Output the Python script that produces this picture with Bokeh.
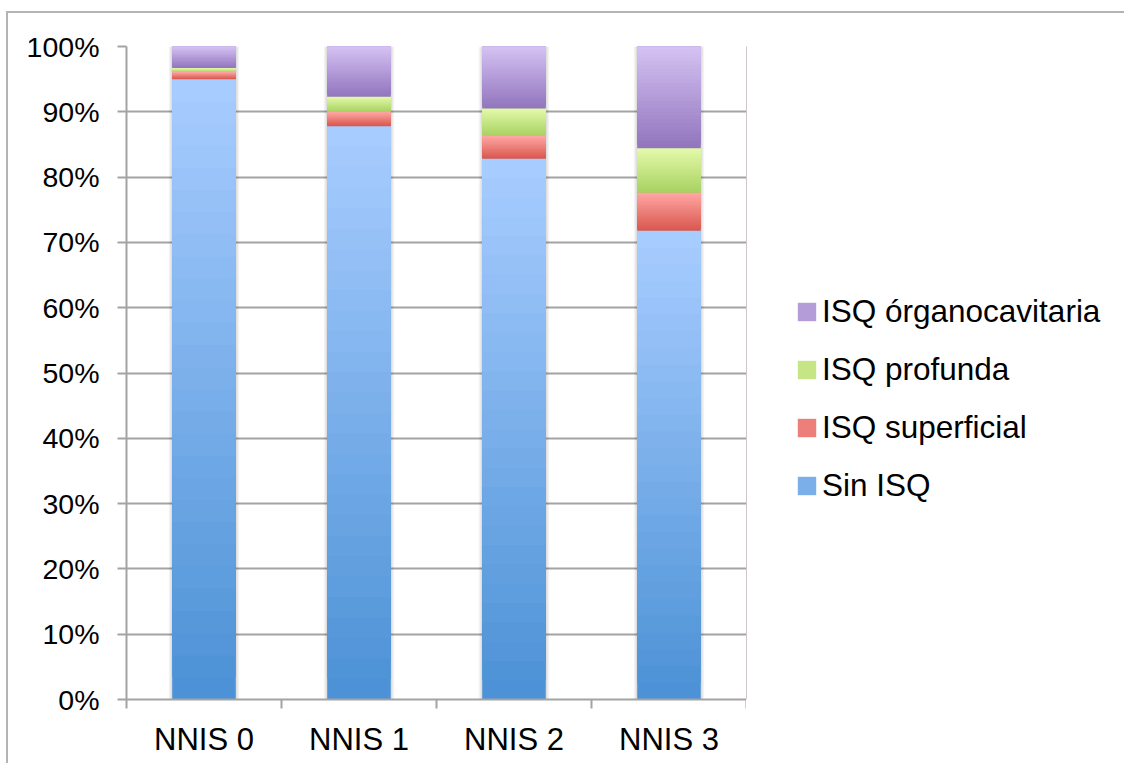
from bokeh.plotting import figure
from bokeh.layouts import row
from bokeh.models import (FixedTicker, PrintfTickFormatter, ColumnDataSource,
                          Legend, LegendItem, Range1d)
from bokeh.embed import file_html
from bokeh.resources import INLINE

# ---- data ----
categories = ["NNIS 0", "NNIS 1", "NNIS 2", "NNIS 3"]
series_names = ["Sin ISQ", "ISQ superficial", "ISQ profunda", "ISQ órganocavitaria"]
sin_isq = [95.0, 87.8, 82.8, 71.8]
isq_superficial = [1.1, 2.2, 3.5, 5.8]
isq_profunda = [0.6, 2.3, 4.2, 6.8]
isq_organocavitaria = [3.3, 7.7, 9.5, 15.6]
y_ticks = [0, 10, 20, 30, 40, 50, 60, 70, 80, 90, 100]

# gradient colours (top, bottom) per series
gradients = [("#A7CCFF", "#4D92D6"),
             ("#FFA6A3", "#D9584F"),
             ("#E3F9A9", "#A9D262"),
             ("#D4C1F2", "#9276BE")]


def hex2rgb(h):
    h = h.lstrip("#")
    return [int(h[i:i + 2], 16) for i in (0, 2, 4)]


def mix(c_top, c_bot, t):
    a, b = hex2rgb(c_top), hex2rgb(c_bot)
    return "#%02x%02x%02x" % tuple(int(round(b[i] + (a[i] - b[i]) * t)) for i in range(3))


FONT = "Liberation Sans"
GRAY = "#A3A3A3"
BAR_W = 0.41
NSLICE = 28
H = 750

p = figure(width=738, height=H, output_backend="svg", toolbar_location=None,
           x_range=Range1d(0, 4), y_range=Range1d(0, 100),
           min_border_left=118, min_border_right=0, min_border_top=33,
           min_border_bottom=64)
p.outline_line_color = None
p.background_fill_color = "white"
p.border_fill_color = "white"

x_pos = [i + 0.5 for i in range(len(categories))]

# soft shadow behind the bars
for k, extra in enumerate([0.045, 0.03, 0.016]):
    p.vbar(x=x_pos, top=[100] * len(x_pos), bottom=[-0.4 - 0.2 * k] * len(x_pos),
           width=BAR_W + extra, fill_color="black", fill_alpha=0.045, line_color=None)

series_vals = [sin_isq, isq_superficial, isq_profunda, isq_organocavitaria]
base = [0.0] * len(categories)
for s, vals in enumerate(series_vals):
    xs, bots, tops, cols = [], [], [], []
    for j in range(NSLICE):
        for c in range(len(categories)):
            b0 = base[c]
            h = vals[c]
            xs.append(x_pos[c])
            bots.append(b0 + h * j / NSLICE)
            tops.append(b0 + h)
            cols.append(mix(gradients[s][0], gradients[s][1], j / (NSLICE - 1)))
    src = ColumnDataSource(dict(x=xs, bottom=bots, top=tops, color=cols))
    p.vbar(x="x", bottom="bottom", top="top", width=BAR_W, fill_color="color",
           line_color=None, source=src)
    base = [base[c] + vals[c] for c in range(len(categories))]

# axes
p.xaxis.ticker = FixedTicker(ticks=x_pos, minor_ticks=[0, 1, 2, 3, 4])
p.xaxis.major_label_overrides = {x_pos[i]: categories[i] for i in range(len(categories))}
p.xaxis.major_tick_line_color = None
p.xaxis.major_tick_out = 0
p.xaxis.major_tick_in = 0
p.xaxis.minor_tick_line_color = GRAY
p.xaxis.minor_tick_line_width = 2
p.xaxis.minor_tick_out = 9
p.xaxis.minor_tick_in = 0
p.xaxis.axis_line_color = GRAY
p.xaxis.axis_line_width = 2
p.xaxis.major_label_text_font = FONT
p.xaxis.major_label_text_font_size = "31px"
p.xaxis.major_label_text_color = "black"
p.xaxis.major_label_standoff = 13

p.yaxis.ticker = FixedTicker(ticks=y_ticks)
p.yaxis.formatter = PrintfTickFormatter(format="%d%%")
p.yaxis.major_tick_line_color = GRAY
p.yaxis.major_tick_line_width = 2
p.yaxis.major_tick_out = 9
p.yaxis.major_tick_in = 0
p.yaxis.minor_tick_line_color = None
p.yaxis.axis_line_color = GRAY
p.yaxis.axis_line_width = 2
p.yaxis.major_label_text_font = FONT
p.yaxis.major_label_text_font_size = "28.5px"
p.yaxis.major_label_text_color = "black"
p.yaxis.major_label_standoff = 18

p.xgrid.grid_line_color = None
p.ygrid.grid_line_color = GRAY
p.ygrid.grid_line_width = 2

# ---- legend panel (separate figure on the right) ----
q = figure(width=378, height=H, output_backend="svg", toolbar_location=None,
           x_range=Range1d(0, 1), y_range=Range1d(0, 1),
           min_border_left=0, min_border_right=0, min_border_top=33,
           min_border_bottom=64)
q.axis.visible = False
q.grid.grid_line_color = None
q.outline_line_color = None
q.background_fill_color = "white"
q.border_fill_color = "white"

legend_items = []
for s in range(len(series_names)):
    mid = mix(gradients[s][0], gradients[s][1], 0.5)
    r = q.vbar(x=[-5], top=[1], bottom=[0], width=0.1, fill_color=mid, line_color=None)
    legend_items.append(LegendItem(label=series_names[s], renderers=[r]))

legend = Legend(items=list(reversed(legend_items)), location=(49, 195),
                padding=0, margin=0, spacing=21, label_height=36,
                glyph_height=23, glyph_width=23, label_standoff=4,
                label_text_font=FONT, label_text_font_size="31.5px",
                label_text_color="black", border_line_color=None,
                background_fill_alpha=0)
q.add_layout(legend, "center")

layout = row(p, q)
layout.styles = {"margin-top": "11px", "margin-left": "6px",
                 "border-top": "2px solid #B4B4B4", "border-left": "2px solid #B4B4B4"}

open("out.html", "w").write(file_html(layout, INLINE))
